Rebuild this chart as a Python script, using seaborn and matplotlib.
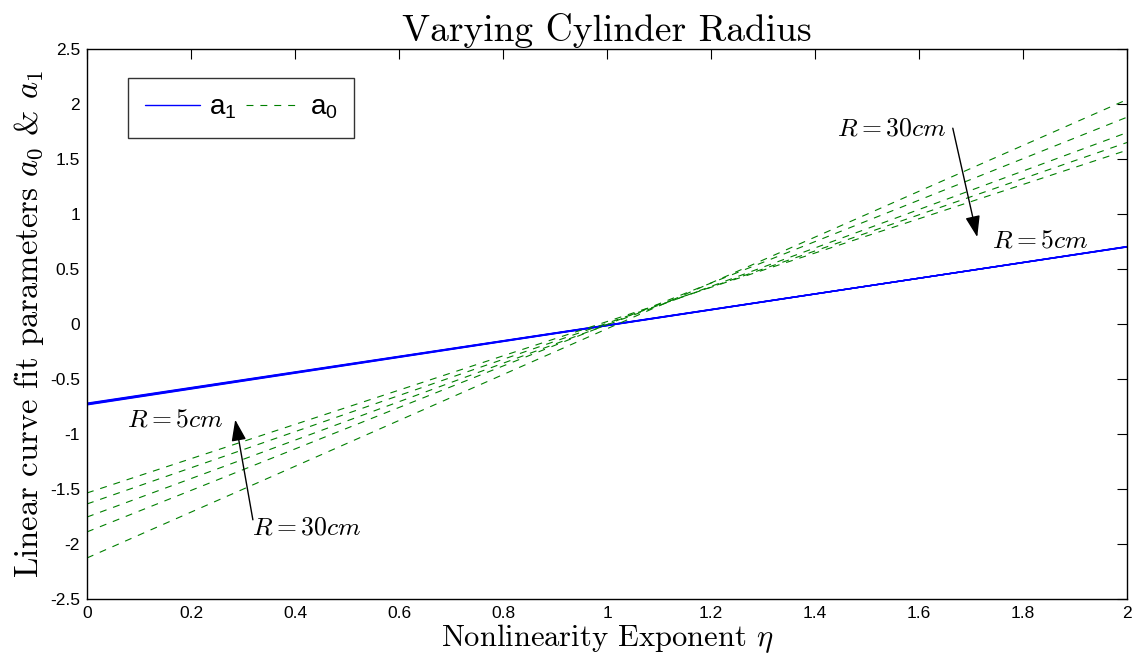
import matplotlib
matplotlib.use("Agg")
import matplotlib.pyplot as plt
import seaborn as sns
import pandas as pd

# Data
eta = [0.0, 2.0]
a1_start = [-0.720, -0.724, -0.727, -0.731, -0.735]
a1_end = [0.700, 0.701, 0.702, 0.703, 0.704]
a0_start = [-1.536, -1.636, -1.755, -1.890, -2.127]
a0_end = [1.580, 1.650, 1.740, 1.880, 2.040]
xticks = [0, 0.2, 0.4, 0.6, 0.8, 1, 1.2, 1.4, 1.6, 1.8, 2]
yticks = [-2.5, -2, -1.5, -1, -0.5, 0, 0.5, 1, 1.5, 2, 2.5]

sns.set_style("white")
plt.rcParams['font.family'] = ['Liberation Sans', 'DejaVu Sans']
plt.rcParams['mathtext.fontset'] = 'custom'
plt.rcParams['mathtext.rm'] = 'Liberation Sans'
plt.rcParams['mathtext.it'] = 'Liberation Sans:italic'
plt.rcParams['lines.scale_dashes'] = False
plt.rcParams['text.color'] = 'black'
plt.rcParams['axes.labelcolor'] = 'black'
plt.rcParams['xtick.color'] = 'black'
plt.rcParams['ytick.color'] = 'black'

rows = []
for i, (s, e) in enumerate(zip(a1_start, a1_end)):
    rows += [dict(eta=eta[0], val=s, series='a1', run=i), dict(eta=eta[1], val=e, series='a1', run=i)]
for i, (s, e) in enumerate(zip(a0_start, a0_end)):
    rows += [dict(eta=eta[0], val=s, series='a0', run=i), dict(eta=eta[1], val=e, series='a0', run=i)]
df = pd.DataFrame(rows)

fig = plt.figure(figsize=(11.35, 6.69), dpi=100)
ax = fig.add_axes([87/1135, 1-599/669, 1040/1135, 550/669])

for i in range(len(a1_start)):
    sub = df[(df.series == 'a1') & (df.run == i)]
    sns.lineplot(data=sub, x='eta', y='val', ax=ax, color='#0000FF', lw=1.0,
                 label='a$_1$' if i == 0 else None)
for i in range(len(a0_start)):
    sub = df[(df.series == 'a0') & (df.run == i)]
    sns.lineplot(data=sub, x='eta', y='val', ax=ax, color='#008000', lw=0.8,
                 dashes=False, linestyle=(0, (5, 5)),
                 label='a$_0$' if i == 0 else None)

ax.set_xlim(0, 2)
ax.set_ylim(-2.5, 2.5)
ax.set_xticks(xticks)
ax.set_xticklabels([f"{t:g}" for t in xticks])
ax.set_yticks(yticks)
ax.set_yticklabels([f"{t:g}" for t in yticks])
ax.tick_params(direction='in', top=True, right=True, length=7, width=0.8,
               labelsize=12.5, pad=5, colors='black')
for sp in ax.spines.values():
    sp.set_color('black')
    sp.set_linewidth(1.0)

cm = dict(fontfamily='cmr10', math_fontfamily='cm', color='black')
ax.set_title('Varying Cylinder Radius', fontsize=27, pad=6, **cm)
ax.set_xlabel(r'Nonlinearity Exponent $\eta$', fontsize=22, labelpad=1, **cm)
ax.set_ylabel(r'Linear curve fit parameters $a_0$ & $a_1$', fontsize=23.5, labelpad=3, **cm)

leg = ax.legend(loc='upper left', bbox_to_anchor=(41/1040, 1-29/550), ncol=2, fontsize=20,
                frameon=True, fancybox=False, edgecolor='black', handlelength=2.0,
                columnspacing=0.35, handletextpad=0.3, borderpad=0.6, borderaxespad=0)
leg.get_frame().set_linewidth(1.0)
for t in leg.get_texts():
    t.set_color('black')

# Annotations
arrowprops = dict(arrowstyle='-|>,head_length=1.3,head_width=0.45', color='black', lw=1.0,
                  shrinkA=0, shrinkB=0)
ax.annotate('', xy=(1.712, 0.79), xytext=(1.665, 1.78), arrowprops=arrowprops)
ax.text(1.548, 1.78, r'$R = 30cm$', fontsize=18.5, math_fontfamily='cm', ha='center', va='center')
ax.text(1.833, 0.76, r'$R = 5cm$', fontsize=18.5, math_fontfamily='cm', ha='center', va='center')
ax.annotate('', xy=(0.285, -0.87), xytext=(0.319, -1.78), arrowprops=arrowprops)
ax.text(0.169, -0.87, r'$R = 5cm$', fontsize=18.5, math_fontfamily='cm', ha='center', va='center')
ax.text(0.423, -1.85, r'$R = 30cm$', fontsize=18.5, math_fontfamily='cm', ha='center', va='center')

fig.savefig('out.png', dpi=100, facecolor='white')
